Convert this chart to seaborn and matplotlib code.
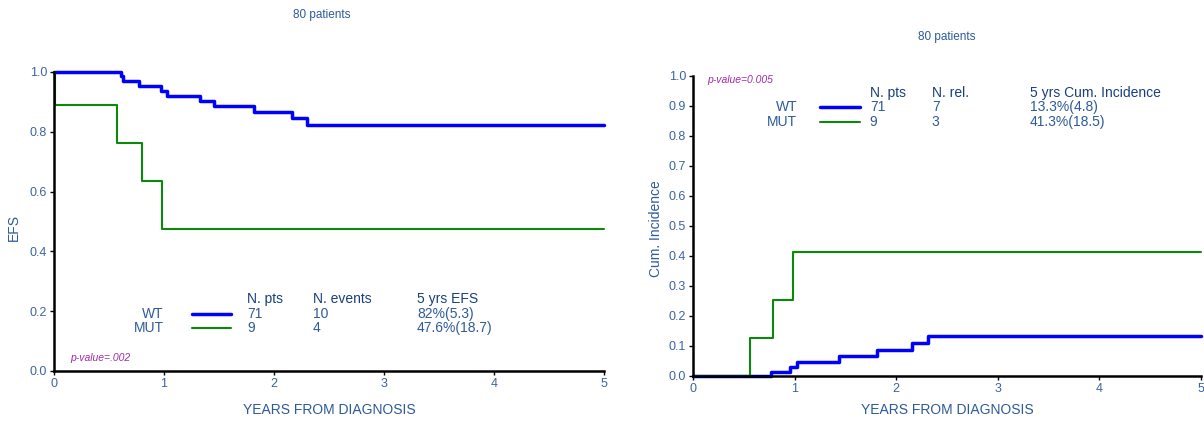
import numpy as np
import pandas as pd
import seaborn as sns
from matplotlib import pyplot as plt

# event-free survival, step points (years, EFS)
efs_wt_t = [0, 0.61, 0.63, 0.77, 0.97, 1.03, 1.33, 1.45, 1.82, 2.16, 2.30, 5.0]
efs_wt_y = [1.0, 0.985, 0.970, 0.953, 0.936, 0.920, 0.903, 0.887, 0.867, 0.846, 0.823, 0.823]
efs_mut_t = [0, 0.01, 0.57, 0.80, 0.98, 5.0]
efs_mut_y = [1.0, 0.889, 0.762, 0.635, 0.476, 0.476]

# cumulative incidence of relapse
ci_wt_t = [0, 0.765, 0.95, 1.02, 1.44, 1.81, 2.16, 2.31, 5.0]
ci_wt_y = [0.0, 0.014, 0.031, 0.048, 0.068, 0.088, 0.110, 0.133, 0.133]
ci_mut_t = [0, 0.56, 0.79, 0.98, 5.0]
ci_mut_y = [0.0, 0.125, 0.254, 0.413, 0.413]

groups = ['WT', 'MUT']
efs_table = [['71', '10', '82%(5.3)'], ['9', '4', '47.6%(18.7)']]
efs_headers = ['N. pts', 'N. events', '5 yrs EFS']
ci_table = [['71', '7', '13.3%(4.8)'], ['9', '3', '41.3%(18.5)']]
ci_headers = ['N. pts', 'N. rel.', '5 yrs Cum. Incidence']

palette = {'WT': '#0000ff', 'MUT': '#0a8a0a'}
widths = {'WT': 2.5, 'MUT': 1.5}
TXT = '#2d5a9a'
TICK = '#3a64a3'
HDR = '#173f80'
PURPLE = '#a02ca8'

sns.set_style('white')
plt.rcParams['font.family'] = ['Liberation Sans', 'DejaVu Sans']


def to_df(pairs):
    rows = []
    for name, (t, y) in pairs.items():
        for ti, yi in zip(t, y):
            rows.append((name, ti, yi))
    return pd.DataFrame(rows, columns=['group', 'years', 'value'])


def style_axes(ax, yticks, ylabel, xlabel_y, ylabel_x, ylabel_y):
    ax.set_xlim(0, 5)
    ax.set_ylim(0, 1)
    ax.set_xticks(range(6))
    ax.set_yticks(yticks)
    ax.set_yticklabels(['%.1f' % v for v in yticks])
    sns.despine(ax=ax)
    for s in ('left', 'bottom'):
        ax.spines[s].set_linewidth(1.8)
        ax.spines[s].set_color('black')
    ax.tick_params(axis='both', direction='out', length=3, width=1, color='black',
                   labelsize=9, labelcolor=TICK, pad=2)
    ax.tick_params(axis='both', which='both', bottom=True, left=True)
    ax.set_xlabel('YEARS FROM DIAGNOSIS', fontsize=10, color=TXT)
    ax.set_ylabel(ylabel, fontsize=10, color=TXT)
    ax.xaxis.set_label_coords(0.5, xlabel_y)
    ax.yaxis.set_label_coords(ylabel_x, ylabel_y)
    ax.grid(False)


def draw_curves(ax, df):
    for g in groups:
        sub = df[df.group == g]
        sns.lineplot(data=sub, x='years', y='value', ax=ax, color=palette[g],
                     linewidth=widths[g], drawstyle='steps-post', clip_on=False,
                     estimator=None, sort=False, legend=False)


def draw_table(ax, name_x, line_x, col_x, rows_y, headers, table):
    for x, h in zip(col_x, headers):
        ax.text(x, rows_y[0], h, transform=ax.transAxes, fontsize=10, color=HDR,
                va='center', ha='left')
    for i, g in enumerate(groups):
        y = rows_y[i + 1]
        ax.text(name_x, y, g, transform=ax.transAxes, fontsize=10, color=TXT,
                va='center', ha='right')
        ax.plot(line_x, [y, y], transform=ax.transAxes, color=palette[g],
                linewidth=widths[g], clip_on=False)
        for x, val in zip(col_x, table[i]):
            ax.text(x, y, val, transform=ax.transAxes, fontsize=10, color=TXT,
                    va='center', ha='left')


fig = plt.figure(figsize=(12.04, 4.21), dpi=100)
ax1 = fig.add_axes([0.0449, 0.1188, 0.4568, 0.7102])
ax2 = fig.add_axes([0.5756, 0.1069, 0.4219, 0.7126])

df_efs = to_df({'WT': (efs_wt_t, efs_wt_y), 'MUT': (efs_mut_t, efs_mut_y)})
draw_curves(ax1, df_efs)
style_axes(ax1, np.round(np.arange(0, 1.01, 0.2), 1), 'EFS', -0.107, -0.06, 0.48)
ax1.text(0.487, 1.19, '80 patients', transform=ax1.transAxes, fontsize=8.5,
         color=TXT, ha='center', va='center')
ax1.text(0.029, 0.043, 'p-value=.002', transform=ax1.transAxes, fontsize=7.5,
         color=PURPLE, style='italic', va='center')
draw_table(ax1, 0.2, [0.251, 0.322], [0.351, 0.471, 0.66], [0.241, 0.191, 0.144],
           efs_headers, efs_table)

df_ci = to_df({'WT': (ci_wt_t, ci_wt_y), 'MUT': (ci_mut_t, ci_mut_y)})
draw_curves(ax2, df_ci)
style_axes(ax2, np.round(np.arange(0, 1.01, 0.1), 1), 'Cum. Incidence', -0.09, -0.059, 0.49)
ax2.text(0.5, 1.13, '80 patients', transform=ax2.transAxes, fontsize=8.5,
         color=TXT, ha='center', va='center')
ax2.text(0.028, 0.987, 'p-value=0.005', transform=ax2.transAxes, fontsize=7.5,
         color=PURPLE, style='italic', va='center')
draw_table(ax2, 0.205, [0.25, 0.329], [0.348, 0.47, 0.663], [0.943, 0.897, 0.847],
           ci_headers, ci_table)

fig.savefig('out.png', dpi=100)
